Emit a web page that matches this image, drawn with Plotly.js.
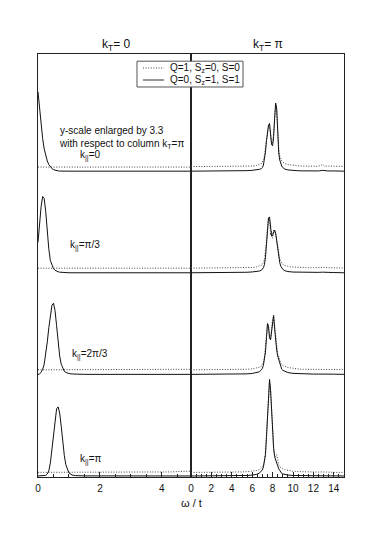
<!DOCTYPE html>
<html>
<head>
<meta charset="utf-8">
<script src="https://cdn.plot.ly/plotly-3.0.1.min.js"></script>
<style>html,body{margin:0;padding:0;background:#fff;}#chart{width:382px;height:543px;}</style>
</head>
<body>
<div id="chart"></div>
<script>
// ---- data ----
const rowLabels = ["k<sub>||</sub>=0", "k<sub>||</sub>=π/3", "k<sub>||</sub>=2π/3", "k<sub>||</sub>=π"];
const columnTitles = ["k<sub>T</sub>= 0", "k<sub>T</sub>= π"];
const seriesNames = ["Q=1, S<sub>z</sub>=0, S=0", "Q=0, S<sub>z</sub>=1, S=1"];
const noteLines = ["y-scale enlarged by 3.3", "with respect to column k<sub>T</sub>=π"];
const xTitle = "ω / t";

// left column (k_T = 0), omega grid and spectra (already enlarged by 3.3)
const omegaLeft = [0, 0.05, 0.1, 0.15, 0.2, 0.25, 0.3, 0.35, 0.4, 0.45, 0.5, 0.55, 0.6, 0.65, 0.7, 0.75, 0.8, 0.85, 0.9, 0.95, 1.0, 1.1, 1.2, 1.5, 2, 3, 4, 4.3, 4.6, 4.94];
const left_k0_S1   = [0.78,0.60,0.45,0.32,0.22, 0.15,0.10,0.065,0.04,0.025, 0.015,0.008,0.004,0.002,0.001, 0,0,0,0,0, 0,0,0,0,0, 0,0,0,0,0];
const left_kpi3_S1 = [0.30,0.48,0.65,0.75,0.73, 0.60,0.40,0.23,0.12,0.07, 0.04,0.025,0.015,0.01,0.006, 0.004,0.002,0.001,0,0, 0,0,0,0,0, 0,0,0,0,0];
const left_k2pi3_S1= [0,0.005,0.02,0.05,0.10, 0.19,0.32,0.46,0.59,0.68, 0.70,0.63,0.48,0.31,0.18, 0.10,0.055,0.03,0.02,0.012, 0.008,0.004,0.002,0,0, 0,0,0,0,0];
const left_kpi_S1  = [0,0,0,0,0.002, 0.006,0.02,0.05,0.13,0.27, 0.43,0.58,0.66,0.68,0.62, 0.49,0.33,0.20,0.11,0.06, 0.03,0.01,0.004,0.001,0, 0,0,0,0,0];
const left_k0_S0   = [0.04,0.04,0.04,0.04,0.04, 0.04,0.04,0.04,0.04,0.04, 0.04,0.04,0.04,0.04,0.04, 0.04,0.04,0.04,0.04,0.04, 0.04,0.04,0.04,0.04,0.04, 0.04,0.04,0.04,0.04,0.04];
const left_kpi3_S0 = [0.045,0.045,0.045,0.045,0.045, 0.045,0.045,0.045,0.045,0.045, 0.045,0.045,0.045,0.045,0.045, 0.045,0.045,0.045,0.045,0.045, 0.045,0.045,0.045,0.045,0.045, 0.045,0.045,0.045,0.045,0.045];
const left_k2pi3_S0= [0.045,0.045,0.045,0.045,0.045, 0.045,0.045,0.045,0.045,0.045, 0.045,0.045,0.045,0.045,0.045, 0.045,0.045,0.045,0.045,0.045, 0.045,0.045,0.045,0.045,0.045, 0.045,0.045,0.048,0.05,0.05];
const left_kpi_S0  = [0.036,0.036,0.036,0.036,0.036, 0.036,0.036,0.036,0.036,0.036, 0.036,0.036,0.036,0.036,0.036, 0.036,0.036,0.036,0.036,0.036, 0.036,0.036,0.036,0.036,0.036, 0.036,0.036,0.04,0.045,0.047];

// right column (k_T = pi)
const omegaRight = [0, 2, 4, 5, 5.5, 6, 6.4, 6.7, 6.9, 7.0, 7.1, 7.2, 7.3, 7.4, 7.5, 7.6, 7.7, 7.8, 7.9, 8.0, 8.1, 8.2, 8.3, 8.4, 8.5, 8.6, 8.7, 8.8, 8.9, 9.0, 9.2, 9.5, 10, 10.5, 11, 11.5, 12, 12.5, 12.9, 13.1, 13.4, 14, 15];
const right_k0_S1   = [0,0,0.001,0.003,0.005, 0.008,0.012,0.018,0.025,0.035, 0.06,0.11,0.19,0.30,0.40, 0.45,0.47,0.36,0.26,0.25, 0.34,0.52,0.67,0.62,0.34, 0.18,0.11,0.07,0.05,0.035, 0.02,0.012,0.006,0.004,0.003, 0.002,0.002,0.002,0.008,0.003, 0.002,0.002,0];
const right_k0_S0   = [0.045,0.045,0.045,0.046,0.048, 0.05,0.055,0.065,0.075,0.09, 0.11,0.15,0.22,0.32,0.41, 0.46,0.45,0.37,0.29,0.28, 0.36,0.52,0.65,0.60,0.36, 0.22,0.15,0.12,0.10,0.09, 0.075,0.065,0.057,0.052,0.05, 0.05,0.048,0.048,0.065,0.05, 0.05,0.048,0.047];
const right_kpi3_S1 = [0,0,0.001,0.003,0.005, 0.008,0.012,0.017,0.025,0.035, 0.05,0.08,0.15,0.28,0.43, 0.54,0.55,0.43,0.36,0.37, 0.40,0.42,0.39,0.31,0.22, 0.15,0.10,0.065,0.045,0.033, 0.02,0.012,0.007,0.005,0.004, 0.003,0.003,0.004,0.006,0.004, 0.003,0.002,0];
const right_kpi3_S0 = [0.045,0.045,0.046,0.047,0.049, 0.052,0.057,0.065,0.075,0.085, 0.10,0.13,0.20,0.31,0.44, 0.53,0.52,0.37,0.41,0.34, 0.42,0.40,0.38,0.32,0.25, 0.19,0.14,0.11,0.095,0.085, 0.072,0.063,0.056,0.052,0.05, 0.05,0.05,0.052,0.06,0.054, 0.05,0.048,0.047];
const right_k2pi3_S1= [0,0,0.001,0.003,0.005, 0.009,0.015,0.025,0.045,0.06, 0.09,0.14,0.22,0.36,0.50, 0.47,0.36,0.34,0.43,0.55, 0.58,0.45,0.32,0.24,0.18, 0.15,0.11,0.07,0.05,0.04, 0.028,0.018,0.01,0.007,0.005, 0.004,0.003,0.003,0.004,0.003, 0.003,0.002,0];
const right_k2pi3_S0= [0.045,0.045,0.046,0.048,0.05, 0.054,0.06,0.07,0.082,0.095, 0.12,0.17,0.25,0.38,0.50, 0.47,0.37,0.35,0.44,0.55, 0.57,0.46,0.34,0.26,0.20, 0.18,0.14,0.11,0.095,0.088, 0.078,0.068,0.058,0.053,0.05, 0.05,0.05,0.05,0.052,0.05, 0.05,0.048,0.047];
const right_kpi_S1  = [0,0,0.001,0.003,0.005, 0.009,0.015,0.028,0.045,0.06, 0.09,0.14,0.21,0.38,0.62, 0.84,0.95,0.85,0.60,0.42, 0.27,0.19,0.15,0.14,0.10, 0.07,0.05,0.035,0.025,0.02, 0.014,0.009,0.005,0.004,0.003, 0.002,0.002,0.002,0.002,0.002, 0.002,0.001,0];
const right_kpi_S0  = [0.035,0.035,0.037,0.04,0.043, 0.047,0.053,0.062,0.075,0.085, 0.105,0.15,0.23,0.39,0.61, 0.82,0.93,0.84,0.60,0.43, 0.29,0.21,0.19,0.21,0.15, 0.11,0.09,0.08,0.075,0.07, 0.062,0.055,0.047,0.043,0.04, 0.04,0.038,0.038,0.04,0.038, 0.037,0.036,0.035];

// ---- build ----
const FONT = "Liberation Sans, Arial, Helvetica, sans-serif";
const rowOffset = [3, 2, 1, 0];   // vertical stacking of the four k_|| rows
const leftS1 = [left_k0_S1, left_kpi3_S1, left_k2pi3_S1, left_kpi_S1];
const leftS0 = [left_k0_S0, left_kpi3_S0, left_k2pi3_S0, left_kpi_S0];
const rightS1 = [right_k0_S1, right_kpi3_S1, right_k2pi3_S1, right_kpi_S1];
const rightS0 = [right_k0_S0, right_kpi3_S0, right_k2pi3_S0, right_kpi_S0];

const dotLine = {color: "#444", width: 1, dash: "1px,1.6px"};
const solidLine = {color: "#111", width: 1};
const traces = [];
function add(xs, ys, off, xa, ya, line, name) {
  traces.push({type: "scatter", mode: "lines", x: xs, y: ys.map(v => v + off),
    xaxis: xa, yaxis: ya, line: line, name: name, showlegend: false, hoverinfo: "skip"});
}
for (let r = 0; r < 4; r++) {
  add(omegaLeft, leftS0[r], rowOffset[r], "x", "y", dotLine, seriesNames[0]);
  add(omegaLeft, leftS1[r], rowOffset[r], "x", "y", solidLine, seriesNames[1]);
  add(omegaRight, rightS0[r], rowOffset[r], "x2", "y2", dotLine, seriesNames[0]);
  add(omegaRight, rightS1[r], rowOffset[r], "x2", "y2", solidLine, seriesNames[1]);
}

const yRange = [-0.01, 4.153];
const xCommon = {
  showgrid: false, zeroline: false, showline: true, mirror: true, linecolor: "#222", linewidth: 1,
  ticks: "inside", ticklen: 5, tickwidth: 1, tickcolor: "#222", tick0: 0, dtick: 2,
  ticklabelstandoff: 2,
  minor: {ticks: "inside", ticklen: 3, tickwidth: 1, tickcolor: "#222", dtick: 0.5, tick0: 0, showgrid: false},
  tickfont: {family: FONT, size: 10, color: "#111"}, fixedrange: true
};
const yCommon = {
  range: yRange, showgrid: false, zeroline: false, showline: true, mirror: true,
  linecolor: "#222", linewidth: 1, ticks: "", showticklabels: false, fixedrange: true
};

const ann = [];
const txt = {family: FONT, size: 10, color: "#111"};
// column titles
ann.push({xref: "paper", yref: "paper", x: 0.255, y: 1.022, xanchor: "center", yanchor: "middle", text: columnTitles[0], showarrow: false, font: {family: FONT, size: 12, color: "#111"}});
ann.push({xref: "paper", yref: "paper", x: 0.752, y: 1.022, xanchor: "center", yanchor: "middle", text: columnTitles[1], showarrow: false, font: {family: FONT, size: 12, color: "#111"}});
// note (two lines in one text block)
ann.push({xref: "x", yref: "y", x: 0.6, y: 3.47, xanchor: "left", yanchor: "top", align: "left",
  text: noteLines.join("<br>"), showarrow: false, font: txt});
// row labels
const labelPos = [[1.29, 3.15], [0.97, 2.27], [1.03, 1.20], [1.29, 0.16]];
for (let r = 0; r < 4; r++) {
  ann.push({xref: "x", yref: "y", x: labelPos[r][0], y: labelPos[r][1], xanchor: "left", yanchor: "middle", text: rowLabels[r], showarrow: false, font: txt});
}
// x title
ann.push({xref: "paper", yref: "paper", x: 0.5, y: -0.062, xanchor: "center", yanchor: "middle", text: xTitle, showarrow: false, font: {family: FONT, size: 11, color: "#111"}});
// legend (drawn as a boxed key)
const lgX0 = 0.3235, lgX1 = 0.670, lgY0 = 0.922, lgY1 = 0.983;
const rowY = [0.967, 0.9385];
ann.push({xref: "paper", yref: "paper", x: 0.425, y: rowY[0], xanchor: "left", yanchor: "middle", text: seriesNames[0], showarrow: false, font: txt});
ann.push({xref: "paper", yref: "paper", x: 0.425, y: rowY[1], xanchor: "left", yanchor: "middle", text: seriesNames[1], showarrow: false, font: txt});
const shapes = [
  {type: "rect", xref: "paper", yref: "paper", x0: lgX0, x1: lgX1, y0: lgY0, y1: lgY1, fillcolor: "#fff", line: {color: "#555", width: 1}, layer: "above"},
  {type: "line", xref: "paper", yref: "paper", x0: 0.343, x1: 0.412, y0: rowY[0], y1: rowY[0], line: dotLine, layer: "above"},
  {type: "line", xref: "paper", yref: "paper", x0: 0.343, x1: 0.412, y0: rowY[1], y1: rowY[1], line: {color: "#333", width: 1}, layer: "above"}
];

const layout = {
  width: 382, height: 543,
  margin: {l: 38, r: 38, t: 54, b: 66},
  paper_bgcolor: "#fff", plot_bgcolor: "#fff",
  showlegend: false,
  font: {family: FONT, color: "#111"},
  xaxis: Object.assign({}, xCommon, {domain: [0, 0.5], range: [0, 4.94], anchor: "y"}),
  xaxis2: Object.assign({}, xCommon, {domain: [0.5, 1], range: [0, 15], anchor: "y2"}),
  yaxis: Object.assign({}, yCommon, {domain: [0, 1], anchor: "x"}),
  yaxis2: Object.assign({}, yCommon, {domain: [0, 1], anchor: "x2"}),
  annotations: ann,
  shapes: shapes
};
Plotly.newPlot("chart", traces, layout, {staticPlot: true, displayModeBar: false});
</script>
</body>
</html>
